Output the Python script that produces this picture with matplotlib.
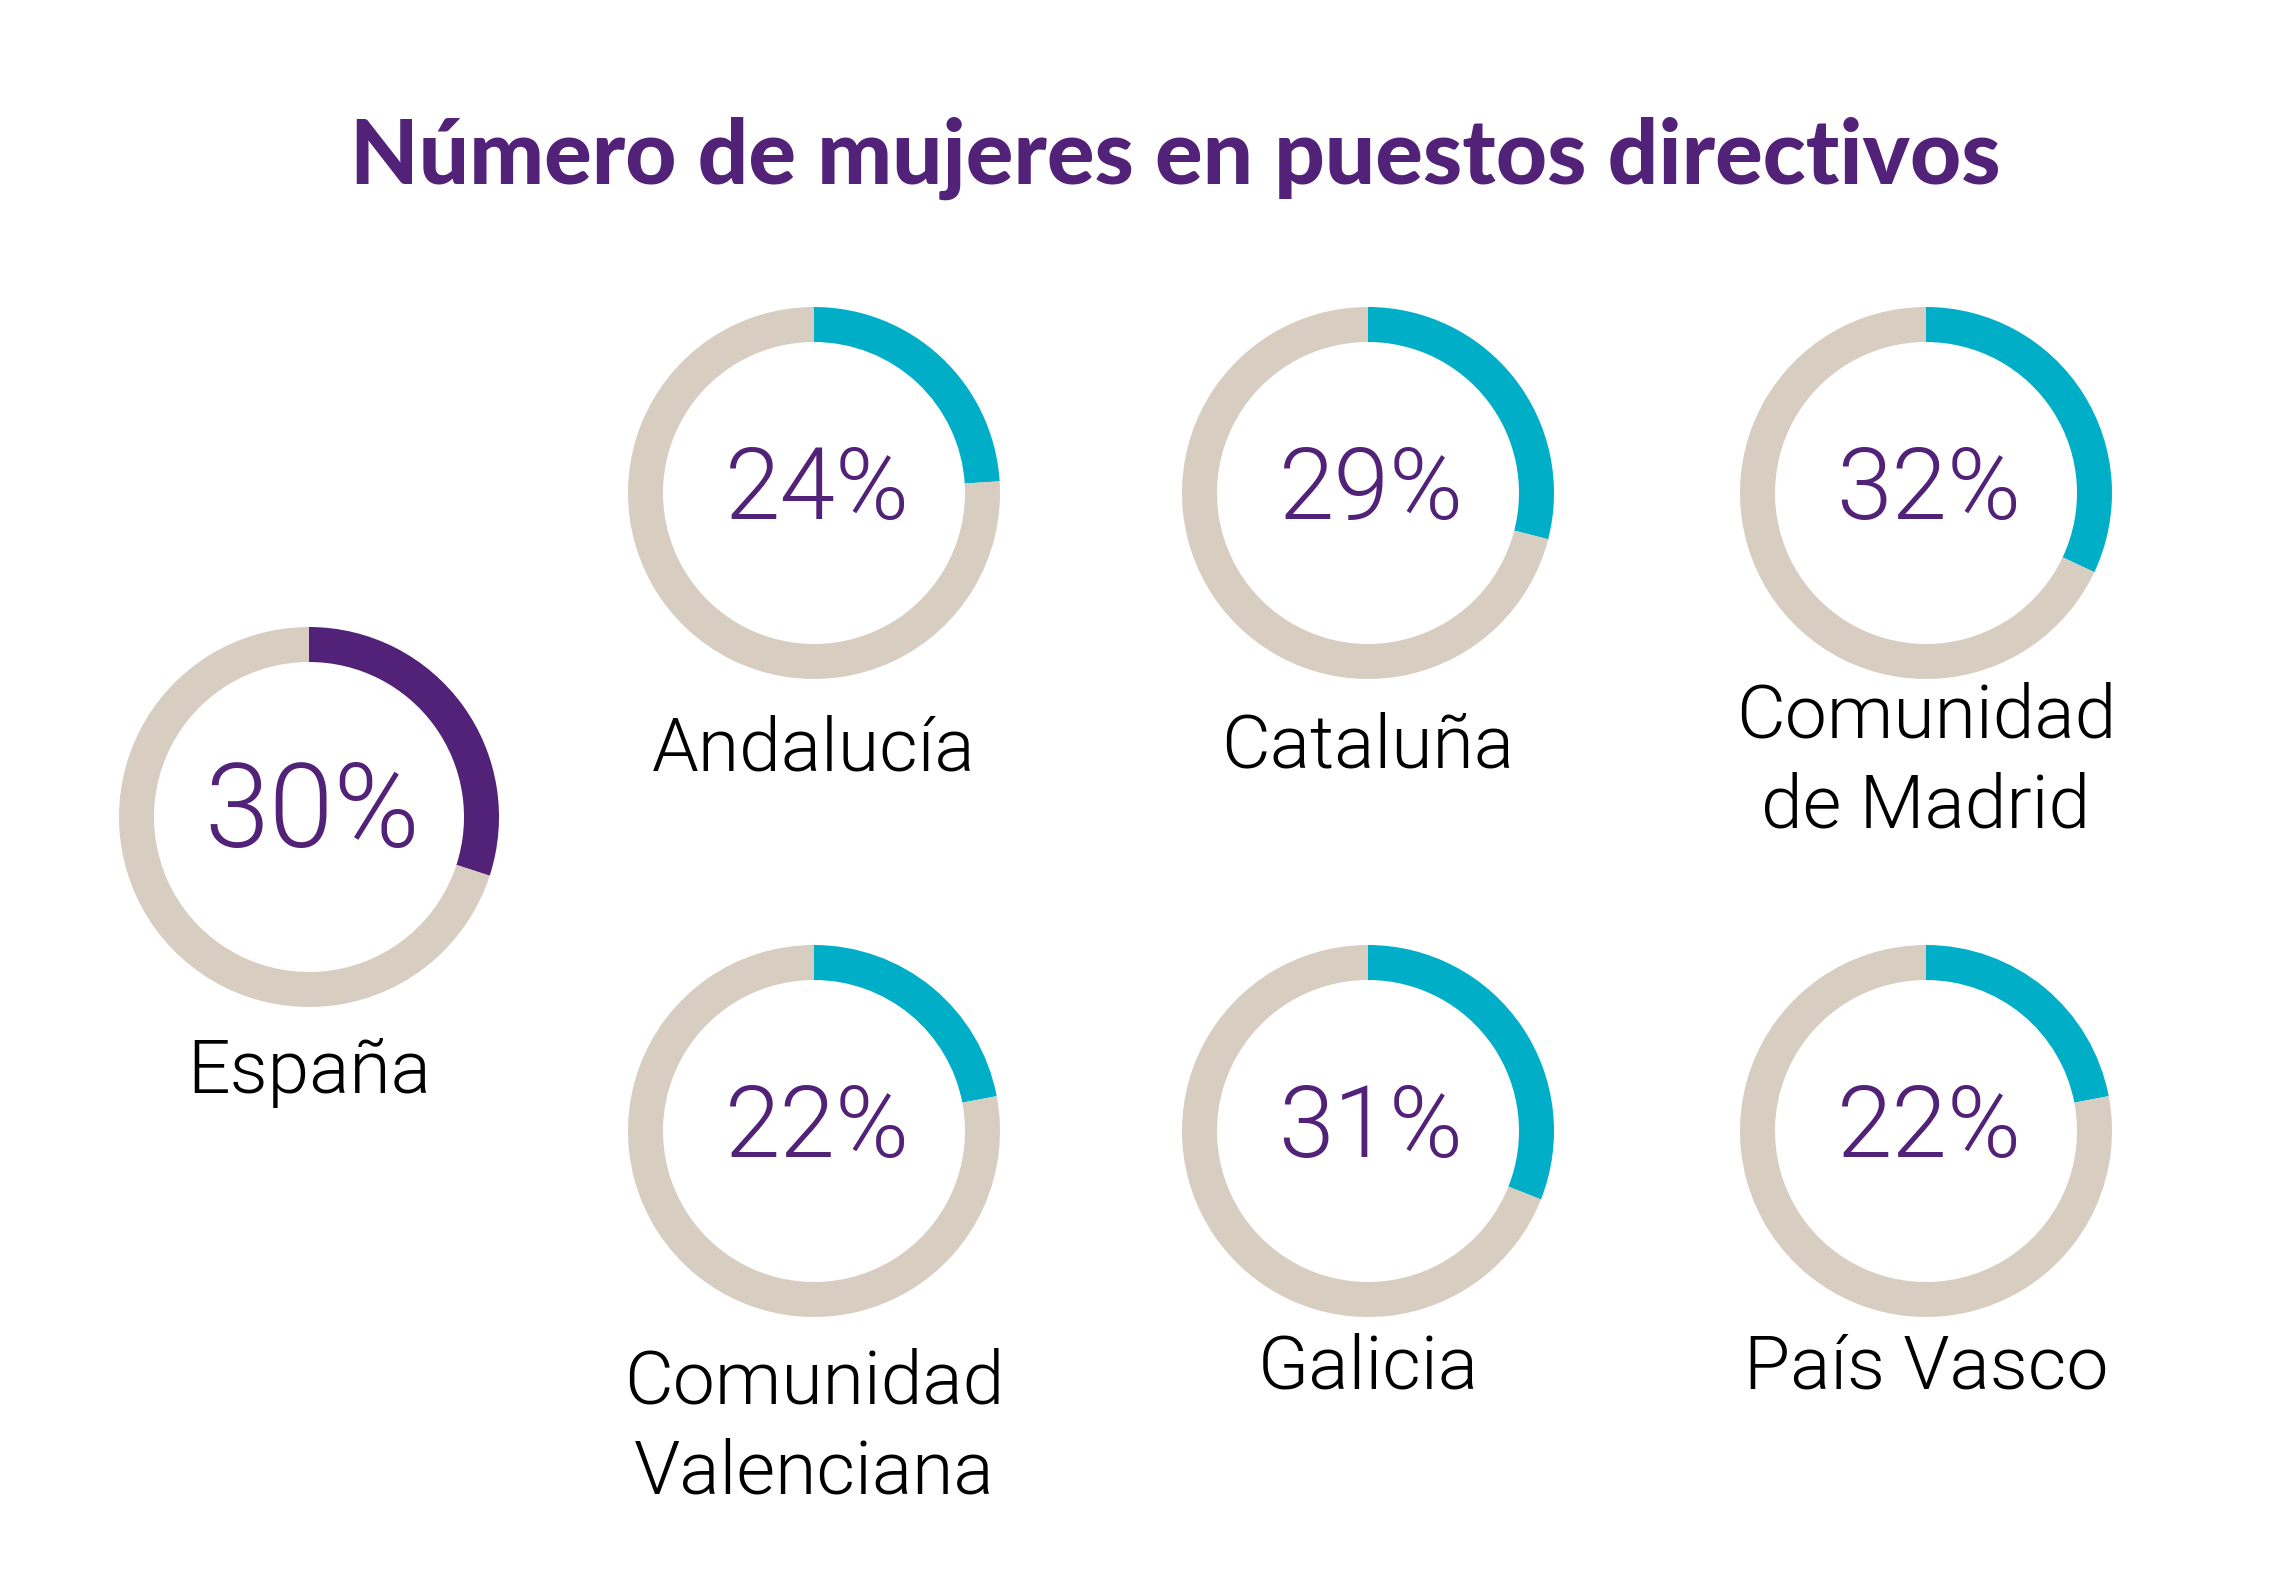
import matplotlib.pyplot as plt

# data
regions = ["España", "Andalucía", "Cataluña", "Comunidad\nde Madrid",
           "Comunidad\nValenciana", "Galicia", "País Vasco"]
values = [30, 24, 29, 32, 22, 31, 22]
labels = ["30%", "24%", "29%", "32%", "22%", "31%", "22%"]

PURPLE = "#522178"
TEAL = "#00AEC7"
BEIGE = "#D7CDC1"

W, H = 2282, 1581
fig = plt.figure(figsize=(W / 100, H / 100), dpi=100)
ax = fig.add_axes([0, 0, 1, 1])

# layout in pixels (x, y from top)
centers = [(309, 817), (814, 493), (1368, 493), (1926, 493),
           (814, 1131), (1368, 1131), (1926, 1131)]
radii = [190, 186, 186, 186, 186, 186, 186]
label_y = [1072, 750, 747, 762, 1428, 1368, 1368]

for i, (name, v, txt) in enumerate(zip(regions, values, labels)):
    cx, cy = centers[i]
    cy = H - cy
    r = radii[i]
    ax.pie([v, 100 - v], center=(cx, cy), radius=r, startangle=90,
           counterclock=False, colors=[PURPLE if i == 0 else TEAL, BEIGE],
           wedgeprops=dict(width=35, linewidth=0))
    ax.text(cx + 3, cy + 2, txt, ha="center", va="center", color=PURPLE,
            fontsize=84 if i == 0 else 72, family="Roboto", fontweight=300)
    ax.text(cx, H - label_y[i], name, ha="center", va="center", color="black",
            fontsize=54, family="Roboto", fontweight=300, linespacing=1.35)

ax.text(W / 2 + 34, H - 158, "Número de mujeres en puestos directivos",
        ha="center", va="center", color=PURPLE, fontsize=64,
        family="Lato", fontweight="black")

ax.set_xlim(0, W)
ax.set_ylim(0, H)
ax.set_aspect("equal")
ax.axis("off")

fig.savefig("out.png", dpi=100)
